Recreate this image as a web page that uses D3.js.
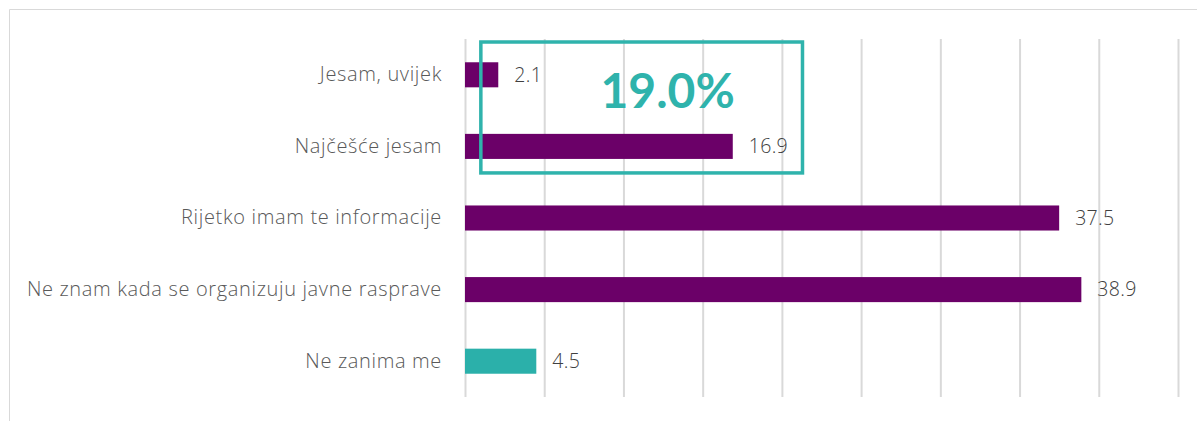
<!DOCTYPE html>
<html>
<head>
<meta charset="utf-8">
<script src="https://cdn.jsdelivr.net/npm/d3@7"></script>
<style>
  body { margin: 0; background: #fff; }
  svg { display: block; font-family: "Open Sans", Lato, sans-serif; }
</style>
</head>
<body>
<svg width="1197" height="421"></svg>
<script>
const categories = ["Jesam, uvijek", "Najčešće jesam", "Rijetko imam te informacije", "Ne znam kada se organizuju javne rasprave", "Ne zanima me"]
const values = [2.1, 16.9, 37.5, 38.9, 4.5]
const colors = ["#6b0068", "#6b0068", "#6b0068", "#6b0068", "#2bb0aa"]
const xTicks = [0, 5, 10, 15, 20, 25, 30, 35, 40, 45]
const highlightRows = [0, 1]

const svg = d3.select("svg"),
margin = {top: 39, right: 19, bottom: 24, left: 465},
width = +svg.attr("width") - margin.left - margin.right,
height = +svg.attr("height") - margin.top - margin.bottom

// outer frame (only top and left edges are visible in the crop)
svg.append("path")
.attr("d", "M9.5,421 V9.5 H1197")
.attr("fill", "none")
.attr("stroke", "#d9d9d9")
.attr("stroke-width", 1)

const x = d3.scaleLinear()
.domain([0, 45])
.range([0, width])

const y = d3.scaleBand()
.domain(categories)
.range([0, height])
.paddingInner(0.65)
.paddingOuter(0.325)

const g = svg.append("g")
.attr("transform", `translate(${margin.left}, ${margin.top})`)

// gridlines
g.append("g")
.attr("class", "grid")
.call(d3.axisBottom(x).tickValues(xTicks).tickSize(height).tickFormat(""))
.call(g => g.select(".domain").remove())
.call(g => g.selectAll(".tick line").attr("stroke", "#d9d9d9").attr("stroke-width", 2))

// category labels
g.append("g")
.call(d3.axisLeft(y).tickSize(0).tickPadding(23))
.call(g => g.select(".domain").remove())
.call(g => g.selectAll(".tick text")
  .attr("fill", "#595959")
  .attr("font-size", "20px")
  .attr("font-weight", 300)
  .attr("letter-spacing", "0.65px")
  .attr("font-family", "'Open Sans', Lato, sans-serif"))

g.selectAll(".bar")
.data(values)
.enter()
.append("rect")
.attr("class", "bar")
.attr("x", 0)
.attr("y", (d, i) => y(categories[i]))
.attr("width", d => x(d))
.attr("height", y.bandwidth())
.attr("fill", (d, i) => colors[i])

g.selectAll(".val")
.data(values)
.enter()
.append("text")
.attr("class", "val")
.attr("x", d => x(d) + 16)
.attr("y", (d, i) => y(categories[i]) + y.bandwidth() / 2)
.attr("dy", "0.35em")
.attr("fill", "#404040")
.attr("font-size", "19.5px")
.attr("font-weight", 300)
.attr("letter-spacing", "0.3px")
.text(d => d.toFixed(1))

// highlight box for the first two answers
const total = d3.sum(highlightRows, i => values[i])
const boxX0 = x(1)
const boxX1 = x(21.3)
const boxY0 = 3
const boxY1 = y(categories[1]) + y.bandwidth() + 14

g.append("rect")
.attr("x", boxX0)
.attr("y", boxY0)
.attr("width", boxX1 - boxX0)
.attr("height", boxY1 - boxY0)
.attr("fill", "none")
.attr("stroke", "#2fb3ac")
.attr("stroke-width", 3.5)

g.append("text")
.attr("x", (boxX0 + boxX1) / 2 + 26)
.attr("y", 69)
.attr("text-anchor", "middle")
.attr("fill", "#2fb3ac")
.attr("font-size", "48px")
.attr("font-weight", "bold")
.attr("font-family", "Lato, 'Open Sans', sans-serif")
.text(total.toFixed(1) + "%")
</script>
</body>
</html>
